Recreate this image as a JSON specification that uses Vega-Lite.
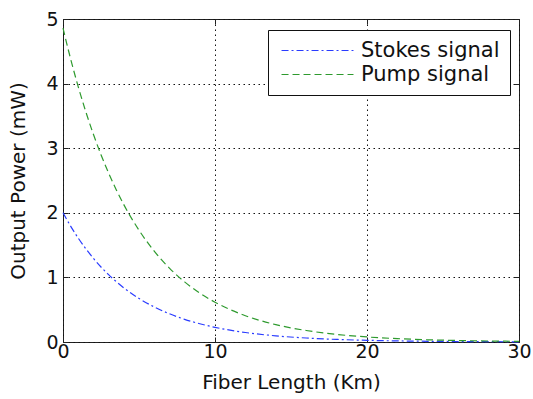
{
  "$schema": "https://vega.github.io/schema/vega-lite/v6.json",
  "width": 456,
  "height": 323,
  "autosize": {"type": "none"},
  "padding": {"left": 63, "top": 19, "right": 14, "bottom": 57},
  "background": "white",
  "config": {
    "view": {"stroke": "#222", "strokeWidth": 1},
    "font": "DejaVu Sans",
    "axis": {
      "labelFont": "DejaVu Sans", "titleFont": "DejaVu Sans",
      "labelFontSize": 19, "titleFontSize": 20, "labelColor": "#111", "titleColor": "#111",
      "titleFontWeight": "normal", "domain": false, "labelFlush": false, "labelOverlap": false,
      "gridColor": "#111", "gridOpacity": 1, "gridDash": [1.5, 3.5], "gridWidth": 1,
      "tickColor": "#222", "tickSize": -5, "tickWidth": 1
    },
    "legend": {
      "orient": "none", "legendX": 205, "legendY": 11, "title": null,
      "strokeColor": "#111", "fillColor": "white", "padding": 10,
      "symbolType": "M-5,0H5", "symbolSize": 207, "symbolStrokeWidth": 1.2, "symbolOffset": 29,
      "labelFont": "DejaVu Sans", "labelFontSize": 21, "labelColor": "#111", "labelOffset": 33, "rowPadding": 2
    }
  },
  "data": {"values": [
    {"x": 0, "power": 2.000, "series": "Stokes signal"},
    {"x": 0.5, "power": 1.794, "series": "Stokes signal"},
    {"x": 1, "power": 1.609, "series": "Stokes signal"},
    {"x": 1.5, "power": 1.444, "series": "Stokes signal"},
    {"x": 2, "power": 1.295, "series": "Stokes signal"},
    {"x": 2.5, "power": 1.161, "series": "Stokes signal"},
    {"x": 3, "power": 1.042, "series": "Stokes signal"},
    {"x": 3.5, "power": 0.935, "series": "Stokes signal"},
    {"x": 4, "power": 0.838, "series": "Stokes signal"},
    {"x": 5, "power": 0.674, "series": "Stokes signal"},
    {"x": 6, "power": 0.543, "series": "Stokes signal"},
    {"x": 7, "power": 0.437, "series": "Stokes signal"},
    {"x": 8, "power": 0.351, "series": "Stokes signal"},
    {"x": 9, "power": 0.283, "series": "Stokes signal"},
    {"x": 10, "power": 0.227, "series": "Stokes signal"},
    {"x": 12, "power": 0.147, "series": "Stokes signal"},
    {"x": 14, "power": 0.095, "series": "Stokes signal"},
    {"x": 16, "power": 0.062, "series": "Stokes signal"},
    {"x": 18, "power": 0.040, "series": "Stokes signal"},
    {"x": 20, "power": 0.026, "series": "Stokes signal"},
    {"x": 22, "power": 0.017, "series": "Stokes signal"},
    {"x": 24, "power": 0.011, "series": "Stokes signal"},
    {"x": 26, "power": 0.007, "series": "Stokes signal"},
    {"x": 28, "power": 0.005, "series": "Stokes signal"},
    {"x": 30, "power": 0.003, "series": "Stokes signal"},
    {"x": 0, "power": 4.860, "series": "Pump signal"},
    {"x": 0.5, "power": 4.383, "series": "Pump signal"},
    {"x": 1, "power": 3.953, "series": "Pump signal"},
    {"x": 1.5, "power": 3.565, "series": "Pump signal"},
    {"x": 2, "power": 3.215, "series": "Pump signal"},
    {"x": 2.5, "power": 2.899, "series": "Pump signal"},
    {"x": 3, "power": 2.615, "series": "Pump signal"},
    {"x": 3.5, "power": 2.358, "series": "Pump signal"},
    {"x": 4, "power": 2.127, "series": "Pump signal"},
    {"x": 5, "power": 1.730, "series": "Pump signal"},
    {"x": 6, "power": 1.407, "series": "Pump signal"},
    {"x": 7, "power": 1.144, "series": "Pump signal"},
    {"x": 8, "power": 0.931, "series": "Pump signal"},
    {"x": 9, "power": 0.757, "series": "Pump signal"},
    {"x": 10, "power": 0.616, "series": "Pump signal"},
    {"x": 12, "power": 0.407, "series": "Pump signal"},
    {"x": 14, "power": 0.269, "series": "Pump signal"},
    {"x": 16, "power": 0.178, "series": "Pump signal"},
    {"x": 18, "power": 0.118, "series": "Pump signal"},
    {"x": 20, "power": 0.078, "series": "Pump signal"},
    {"x": 22, "power": 0.052, "series": "Pump signal"},
    {"x": 24, "power": 0.034, "series": "Pump signal"},
    {"x": 26, "power": 0.023, "series": "Pump signal"},
    {"x": 28, "power": 0.015, "series": "Pump signal"},
    {"x": 30, "power": 0.010, "series": "Pump signal"}
  ]},
  "layer": [
    {
      "mark": {"type": "line", "strokeWidth": 1.2, "interpolate": "monotone"},
      "encoding": {
        "x": {"field": "x", "type": "quantitative", "scale": {"domain": [0, 30], "nice": false},
          "axis": {"values": [0, 10, 20, 30], "title": "Fiber Length (Km)", "grid": true, "labelPadding": 5, "titlePadding": 11}},
        "y": {"field": "power", "type": "quantitative", "scale": {"domain": [0, 5], "nice": false},
          "axis": {"values": [0, 1, 2, 3, 4, 5], "title": "Output Power (mW)", "grid": true, "labelPadding": 10, "titlePadding": 17}},
        "color": {"field": "series", "type": "nominal",
          "scale": {"domain": ["Stokes signal", "Pump signal"], "range": ["#2a3cff", "#2e9a2e"]}},
        "strokeDash": {"field": "series", "type": "nominal",
          "scale": {"domain": ["Stokes signal", "Pump signal"], "range": [[7, 3, 2, 3], [7, 4]]}}
      }
    },
    {
      "mark": {"type": "line", "opacity": 0},
      "encoding": {
        "x": {"field": "x", "type": "quantitative", "scale": {"domain": [0, 30], "nice": false},
          "axis": {"orient": "top", "values": [0, 10, 20, 30], "labels": false, "title": null, "grid": false}},
        "y": {"field": "power", "type": "quantitative", "scale": {"domain": [0, 5], "nice": false},
          "axis": {"orient": "right", "values": [0, 1, 2, 3, 4, 5], "labels": false, "title": null, "grid": false}},
        "detail": {"field": "series"}
      }
    }
  ],
  "resolve": {"axis": {"x": "independent", "y": "independent"}}
}
